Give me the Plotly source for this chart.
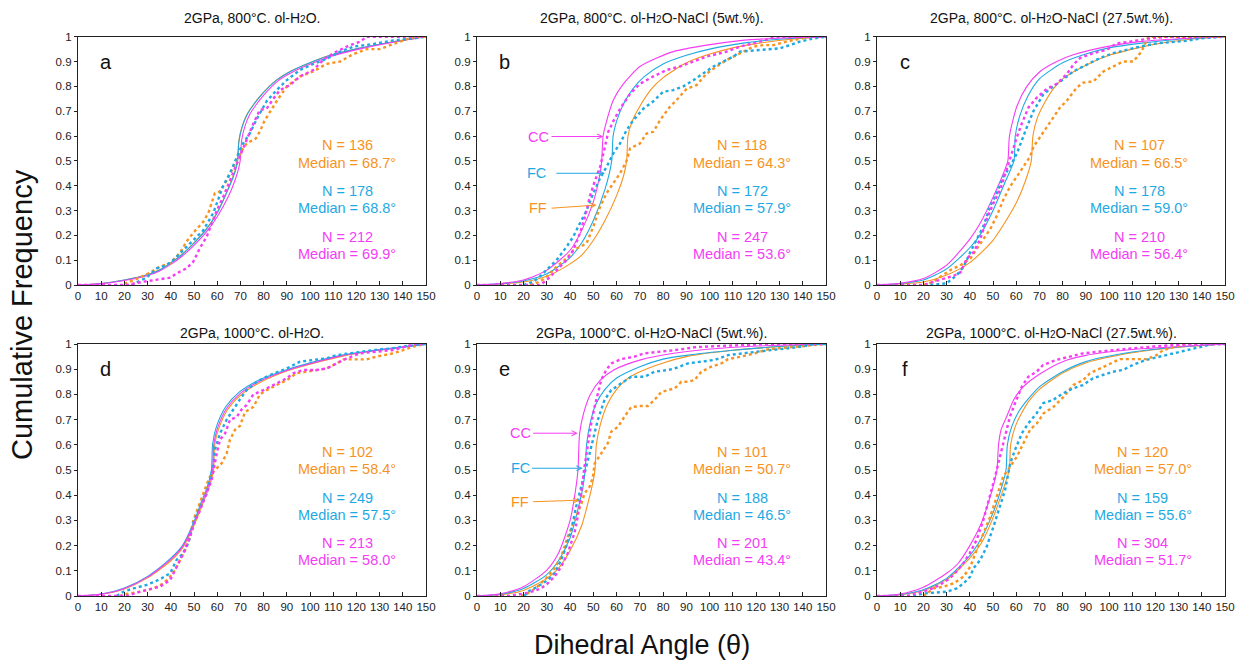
import plotly.graph_objects as go

# ---------------- DATA ----------------
TITLES = [
    "2GPa, 800°C. ol-H<span style='font-size:10px'>2</span>O.",
    "2GPa, 800°C. ol-H<span style='font-size:10px'>2</span>O-NaCl (5wt.%).",
    "2GPa, 800°C. ol-H<span style='font-size:10px'>2</span>O-NaCl (27.5wt.%).",
    "2GPa, 1000°C. ol-H<span style='font-size:10px'>2</span>O.",
    "2GPa, 1000°C. ol-H<span style='font-size:10px'>2</span>O-NaCl (5wt.%).",
    "2GPa, 1000°C. ol-H<span style='font-size:10px'>2</span>O-NaCl (27.5wt.%).",
]
LETTERS = ["a", "b", "c", "d", "e", "f"]
SERIES = ["FF", "FC", "CC"]
X_TICKS = list(range(0, 151, 10))
Y_TICKS = [round(0.1 * i, 1) for i in range(11)]

# N and median for FF (orange), FC (blue), CC (magenta) in each panel
N_a = [136, 178, 212]; MED_a = [68.7, 68.8, 69.9]
N_b = [118, 172, 247]; MED_b = [64.3, 57.9, 53.6]
N_c = [107, 178, 210]; MED_c = [66.5, 59.0, 56.4]
N_d = [102, 249, 213]; MED_d = [58.4, 57.5, 58.0]
N_e = [101, 188, 201]; MED_e = [50.7, 46.5, 43.4]
N_f = [120, 159, 304]; MED_f = [57.0, 55.6, 51.7]

# ---- measured cumulative frequencies (angle, F) ----
a_ff_dots = [(20,0.005),(26.7,0.03),(31,0.05),(35.3,0.074),(39.7,0.087),(44,0.13),(46.8,0.175),(49.7,0.21),(54,0.255),(56.2,0.29),(57.6,0.33),(59,0.37),(61,0.376),(64,0.42),(66.2,0.46),(68.4,0.5),(70.5,0.54),(72.7,0.57),(76.6,0.59),(78.5,0.62),(80.3,0.66),(85.6,0.74),(90,0.8),(95.7,0.84),(101.4,0.86),(107,0.89),(113,0.9),(118.7,0.93),(124.4,0.95),(130,0.95),(136,0.97),(141.7,0.99),(146,1.0),(150,1.0)]
a_fc_dots = [(23,0.0),(29.6,0.03),(33.9,0.067),(38.2,0.08),(41,0.1),(45.4,0.14),(49.7,0.18),(54,0.22),(58.3,0.29),(60.5,0.35),(62.6,0.4),(65.5,0.45),(67.7,0.5),(70.5,0.56),(74,0.61),(77.7,0.68),(81.3,0.74),(85.6,0.785),(90,0.825),(95.7,0.866),(101.4,0.89),(107,0.91),(113,0.94),(118.7,0.96),(127,0.97),(136,0.985),(144.5,0.993),(150,1.0)]
a_cc_dots = [(0,0.0),(21,0.0),(28,0.013),(35,0.023),(40,0.03),(42.5,0.047),(46.8,0.067),(49.7,0.094),(52.6,0.15),(55.5,0.195),(57.6,0.25),(59.8,0.3),(62.6,0.355),(65.5,0.42),(68.4,0.49),(70.5,0.53),(72.7,0.58),(75.6,0.65),(78.4,0.705),(81.3,0.71),(84.2,0.75),(87,0.785),(91.4,0.805),(95.7,0.84),(101.4,0.866),(105.7,0.906),(110,0.933),(115.8,0.96),(121.6,0.98),(124.4,1.0),(150,1.0)]

b_ff_dots = [(22.8,0.0),(27,0.013),(30,0.034),(34.2,0.074),(38.5,0.107),(41.4,0.14),(44.3,0.154),(47.1,0.168),(50,0.235),(52.9,0.315),(55.7,0.37),(58.6,0.41),(61.5,0.45),(64.3,0.5),(65.8,0.55),(67.2,0.557),(70,0.57),(72.9,0.61),(75.8,0.617),(78.7,0.664),(82.9,0.718),(85.8,0.745),(90.1,0.79),(94.4,0.805),(98.7,0.852),(103,0.88),(107.3,0.906),(113,0.933),(118.8,0.96),(123,0.966),(127.4,0.966),(133,0.98),(138.8,0.993),(143,1.0),(150,1.0)]
b_fc_dots = [(20,0.0),(24.2,0.013),(27,0.034),(30,0.06),(34.2,0.1),(38.5,0.154),(41.4,0.195),(44.3,0.25),(47.1,0.3),(50,0.37),(52.9,0.43),(55.7,0.476),(58.6,0.53),(61.5,0.57),(64.3,0.624),(67.2,0.664),(71.5,0.71),(75.8,0.74),(80,0.778),(84.4,0.785),(88.7,0.8),(93,0.825),(97.3,0.852),(101.6,0.88),(105.9,0.9),(110.2,0.92),(113,0.94),(121.6,0.946),(130,0.953),(134.5,0.966),(138.8,0.98),(144.6,0.993),(150,1.0)]
b_cc_dots = [(0,0.0),(27,0.0),(30,0.02),(32.8,0.047),(35.7,0.074),(38.5,0.1),(41.4,0.14),(44.3,0.21),(46.4,0.275),(48.6,0.36),(50.7,0.42),(52.9,0.476),(55,0.557),(56.4,0.617),(58.6,0.66),(61.5,0.71),(65.8,0.77),(70,0.81),(75.8,0.84),(81.5,0.866),(87.2,0.88),(93,0.9),(98.7,0.92),(107.3,0.94),(113,0.96),(121.6,0.98),(128.8,1.0),(150,1.0)]

c_ff_dots = [(20,0.0),(24.4,0.013),(27.3,0.033),(31.6,0.06),(35.9,0.08),(40.2,0.106),(43,0.146),(45.9,0.185),(48.8,0.225),(51.6,0.278),(54.5,0.344),(57.4,0.397),(60.3,0.437),(63.1,0.477),(66,0.517),(67.4,0.556),(70.3,0.596),(73.2,0.636),(76,0.675),(78.9,0.715),(81.8,0.742),(86.1,0.795),(89,0.815),(93.3,0.82),(97.6,0.86),(101.9,0.88),(106.1,0.9),(110.5,0.9),(114,0.94),(117,1.0),(150,1.0)]
c_fc_dots = [(23,0.0),(30,0.007),(34.4,0.04),(37.3,0.073),(40.2,0.132),(43,0.185),(45.9,0.238),(48.8,0.318),(51.6,0.37),(54.5,0.437),(57.4,0.477),(60.3,0.53),(62.4,0.583),(64.6,0.636),(67.4,0.7),(71.7,0.768),(76,0.8),(80.3,0.828),(84.6,0.86),(90.4,0.887),(96.1,0.914),(101.9,0.934),(107.6,0.947),(113.3,0.96),(120.5,0.973),(127.7,0.98),(133.4,0.983),(139.2,0.993),(150,1.0)]
c_cc_dots = [(0,0.0),(20,0.0),(24.4,0.013),(28.7,0.026),(33,0.037),(35.9,0.05),(38.7,0.106),(41.6,0.132),(44.5,0.185),(47.3,0.265),(50.2,0.33),(53.1,0.384),(56,0.464),(58.1,0.53),(60.3,0.596),(62.4,0.65),(65.3,0.715),(68.9,0.755),(73.2,0.79),(77.5,0.81),(81.8,0.85),(84.6,0.887),(87.5,0.914),(93.3,0.934),(99,0.947),(103.3,0.973),(109,0.98),(117.6,0.993),(126.3,1.0),(150,1.0)]

d_ff_dots = [(18,0.0),(21,0.008),(26.7,0.017),(32.5,0.03),(36.8,0.05),(39.7,0.077),(41.8,0.103),(44,0.143),(46.1,0.18),(48.3,0.235),(49.7,0.3),(51.9,0.354),(54,0.407),(56.2,0.46),(57.6,0.487),(59.8,0.507),(61.9,0.526),(64.1,0.566),(65.5,0.62),(67.7,0.66),(69.8,0.675),(72,0.73),(75.6,0.75),(78.4,0.8),(81.3,0.817),(85.6,0.837),(90,0.857),(94.3,0.884),(98.6,0.89),(102.9,0.897),(107.2,0.903),(111.5,0.923),(114.4,0.939),(118.7,0.939),(124.4,0.939),(128.7,0.95),(133,0.956),(135.9,0.963),(140.2,0.976),(144.5,0.99),(150,1.0)]
d_fc_dots = [(16.7,0.0),(19.5,0.017),(23.9,0.03),(29.6,0.044),(35.3,0.066),(39.7,0.09),(42.5,0.143),(45.4,0.17),(47.6,0.21),(49.7,0.29),(52.6,0.354),(55.5,0.407),(56.9,0.46),(58.3,0.513),(59,0.58),(61.2,0.645),(64.1,0.7),(66.9,0.74),(69.8,0.78),(72.7,0.817),(77,0.85),(82.8,0.877),(90,0.903),(95.7,0.93),(101.4,0.937),(107.2,0.943),(111.5,0.956),(117.2,0.963),(124.4,0.97),(130.2,0.979),(135.9,0.983),(141.7,0.992),(150,1.0)]
d_cc_dots = [(0,0.0),(21,0.0),(26.7,0.017),(31,0.026),(35.3,0.037),(39.7,0.063),(42.5,0.116),(45.4,0.17),(48.3,0.235),(50.4,0.295),(52.6,0.34),(55.5,0.407),(57.6,0.46),(59.8,0.566),(61.2,0.62),(63.4,0.645),(65.5,0.7),(68.4,0.71),(70.5,0.74),(72.7,0.758),(75.6,0.8),(79.9,0.817),(85.6,0.844),(90,0.864),(92.8,0.884),(97.1,0.897),(102.9,0.897),(107.2,0.903),(111.5,0.923),(115.8,0.943),(121.6,0.963),(128.7,0.97),(135.9,0.976),(141.7,0.99),(144.5,1.0),(150,1.0)]

e_ff_dots = [(19,0.0),(21.8,0.01),(26,0.037),(30.4,0.077),(33.3,0.11),(36.2,0.156),(39,0.235),(41.9,0.3),(44.8,0.364),(46.2,0.407),(48.4,0.434),(49.8,0.47),(50.5,0.524),(53.4,0.566),(56.2,0.606),(57.7,0.652),(60.6,0.672),(63.4,0.712),(66.3,0.75),(70.6,0.754),(73.5,0.754),(76.3,0.778),(79.2,0.81),(85,0.824),(87.8,0.85),(90.7,0.85),(93.5,0.857),(96.4,0.89),(100.7,0.91),(105,0.923),(107.9,0.94),(113.6,0.95),(119.4,0.963),(125.1,0.979),(133.7,0.987),(140.9,0.992),(150,1.0)]
e_fc_dots = [(20.4,0.0),(21.8,0.017),(26,0.037),(30.4,0.063),(33.3,0.09),(36.2,0.143),(38.3,0.196),(40.5,0.262),(42.6,0.354),(44.8,0.434),(46.9,0.5),(48.4,0.566),(49.8,0.619),(51.9,0.698),(54.8,0.778),(57.7,0.817),(62,0.844),(66.3,0.87),(72,0.87),(76.3,0.89),(82.1,0.897),(85,0.903),(90.7,0.923),(96.4,0.93),(102.2,0.937),(107.9,0.956),(113.6,0.963),(119.4,0.97),(126.5,0.976),(133.7,0.983),(139.5,0.99),(145.2,1.0),(150,1.0)]
e_cc_dots = [(0,0.0),(13,0.0),(20.4,0.01),(24.7,0.02),(27.5,0.03),(30.4,0.05),(33.3,0.077),(36.2,0.116),(39,0.17),(41.9,0.25),(43.3,0.315),(44.8,0.407),(46.2,0.513),(47.6,0.606),(49.1,0.685),(50.5,0.75),(51.9,0.804),(53.4,0.857),(55.5,0.897),(57.7,0.923),(62,0.94),(67.7,0.95),(72,0.963),(77.8,0.97),(83.5,0.974),(87.8,0.979),(93.5,0.987),(99.3,0.99),(106.5,0.992),(113.6,0.996),(125,1.0),(150,1.0)]

f_ff_dots = [(20,0.0),(24.4,0.03),(28.7,0.037),(33,0.05),(37.3,0.077),(40.2,0.116),(43,0.183),(45.9,0.25),(48.8,0.315),(51.6,0.394),(54.4,0.474),(57.4,0.513),(60.3,0.553),(63.1,0.606),(66,0.66),(68.9,0.685),(71.8,0.725),(76,0.75),(80.4,0.79),(84.6,0.837),(88.9,0.857),(91.8,0.884),(96.1,0.903),(100.4,0.923),(104.7,0.94),(110.5,0.94),(116.2,0.94),(120.5,0.956),(123.4,0.976),(129.1,0.99),(133.4,1.0),(150,1.0)]
f_fc_dots = [(15.6,0.0),(20,0.01),(24.4,0.013),(30,0.017),(34.4,0.03),(37.3,0.05),(40.2,0.077),(41.6,0.11),(44.5,0.143),(47.3,0.196),(50.2,0.275),(53.1,0.354),(55.2,0.42),(57.4,0.526),(59.5,0.58),(62.4,0.645),(65.2,0.685),(68.8,0.725),(71.6,0.765),(75.9,0.778),(80.2,0.804),(84.5,0.824),(88.8,0.837),(93.1,0.864),(97.4,0.877),(101.7,0.89),(106,0.897),(110.3,0.917),(116,0.937),(121.8,0.95),(127.5,0.963),(133.2,0.976),(139,0.99),(144.8,1.0),(150,1.0)]
f_cc_dots = [(0,0.0),(13,0.0),(17,0.01),(22.8,0.026),(27,0.044),(31.4,0.07),(34.3,0.097),(37.2,0.13),(40,0.17),(42.9,0.222),(45.8,0.3),(48.7,0.394),(50.9,0.474),(53,0.553),(55.2,0.632),(57.3,0.712),(59.5,0.765),(62.4,0.83),(65.2,0.87),(68.8,0.89),(71.6,0.917),(77.4,0.937),(83.1,0.95),(88.8,0.963),(96,0.97),(101.7,0.976),(110.3,0.983),(118.9,0.99),(127.5,0.996),(134.7,1.0),(150,1.0)]

# ---- model curves (angle, F) ----
a_ff_curve = [(0,0),(10,0.006),(20,0.02),(30,0.042),(35,0.06),(40,0.09),(45,0.125),(50,0.17),(55,0.222),(60,0.292),(64,0.372),(66.4,0.427),(67.9,0.467),(68.7,0.5),(69.3,0.58),(70.6,0.635),(72.7,0.685),(75.5,0.725),(78.4,0.76),(85.5,0.825),(92.7,0.866),(100,0.895),(107,0.92),(121,0.953),(136,0.98),(150,1.0)]
a_fc_curve = [(0,0),(10,0.006),(20,0.02),(30,0.041),(35,0.059),(40,0.089),(45,0.124),(50,0.169),(55,0.22),(60,0.29),(64,0.37),(66.5,0.425),(68,0.465),(68.8,0.5),(69.4,0.58),(70.7,0.635),(72.8,0.685),(75.6,0.725),(78.5,0.76),(85.6,0.825),(92.8,0.866),(100,0.895),(107,0.92),(121,0.953),(136,0.98),(150,1.0)]
a_cc_curve = [(0,0),(10,0.005),(20,0.018),(30,0.038),(35,0.055),(40,0.083),(45,0.117),(50,0.16),(55,0.21),(60,0.275),(65,0.36),(67.6,0.42),(69.1,0.465),(69.9,0.5),(70.5,0.58),(71.8,0.635),(73.9,0.685),(76.7,0.725),(79.6,0.76),(86.6,0.825),(93.8,0.864),(101,0.893),(108,0.918),(122,0.952),(137,0.98),(150,1.0)]

b_ff_curve = [(0,0),(10,0.004),(20,0.012),(30,0.035),(40,0.085),(45,0.12),(50,0.18),(55,0.26),(60,0.36),(63,0.44),(64.3,0.5),(64.9,0.6),(66.5,0.655),(70,0.72),(75,0.79),(80,0.835),(90,0.895),(100,0.93),(110,0.955),(120,0.972),(135,0.99),(150,1.0)]
b_fc_curve = [(0,0),(10,0.005),(20,0.016),(30,0.045),(40,0.11),(45,0.17),(50,0.26),(55,0.385),(57.9,0.5),(58.5,0.6),(60,0.66),(63,0.73),(67,0.79),(72,0.84),(80,0.89),(90,0.925),(100,0.95),(115,0.975),(130,0.99),(150,1.0)]
b_cc_curve = [(0,0),(10,0.006),(20,0.02),(30,0.06),(40,0.14),(45,0.22),(50,0.335),(52.9,0.45),(53.6,0.5),(54.2,0.6),(55.7,0.66),(58.6,0.745),(62.9,0.81),(70,0.88),(77,0.913),(84.4,0.94),(98.7,0.966),(113,0.984),(127,0.993),(150,1.0)]

c_ff_curve = [(0,0),(10,0.004),(20,0.012),(30,0.04),(40,0.09),(50,0.18),(55,0.25),(60,0.33),(64,0.42),(66.5,0.5),(67.2,0.6),(69,0.67),(72,0.73),(76,0.79),(80,0.83),(90,0.885),(100,0.925),(110,0.95),(120,0.97),(135,0.99),(150,1.0)]
c_fc_curve = [(0,0),(10,0.006),(20,0.02),(30,0.065),(40,0.15),(45,0.21),(50,0.3),(55,0.41),(59,0.5),(59.6,0.6),(61.5,0.68),(65,0.76),(70,0.83),(80,0.895),(90,0.93),(100,0.955),(115,0.975),(130,0.99),(150,1.0)]
c_cc_curve = [(0,0),(10,0.007),(20,0.026),(30,0.08),(40,0.185),(45,0.258),(50.2,0.357),(54.5,0.45),(56.4,0.5),(57.1,0.6),(60.3,0.72),(64.6,0.8),(70.3,0.86),(77.5,0.9),(84.6,0.927),(99,0.96),(113,0.98),(130,0.992),(150,1.0)]

d_ff_curve = [(0,0),(10,0.007),(20,0.028),(30,0.072),(40,0.14),(45,0.19),(50,0.28),(53.5,0.36),(56.5,0.43),(58.4,0.5),(58.9,0.6),(60.5,0.66),(64.5,0.74),(70.5,0.8),(79,0.85),(90,0.893),(100,0.92),(114,0.952),(129,0.975),(143,0.991),(150,1.0)]
d_fc_curve = [(0,0),(10,0.008),(20,0.032),(30,0.078),(40,0.15),(45,0.2),(50,0.295),(53,0.37),(55.6,0.43),(57.5,0.5),(58,0.6),(59.6,0.67),(63.6,0.75),(69.6,0.81),(78,0.857),(89.6,0.897),(100,0.925),(114,0.956),(128.7,0.976),(143,0.992),(150,1.0)]
d_cc_curve = [(0,0),(10,0.0075),(20,0.03),(30,0.075),(40,0.145),(45,0.195),(50,0.288),(53.3,0.365),(56,0.43),(58,0.5),(58.5,0.6),(60.1,0.665),(64.1,0.745),(70.1,0.805),(78.5,0.853),(90,0.895),(100,0.922),(114,0.954),(129,0.975),(143,0.991),(150,1.0)]

e_ff_curve = [(0,0),(10,0.005),(20,0.022),(30,0.07),(35,0.11),(40,0.18),(45,0.28),(48,0.38),(50,0.46),(50.7,0.5),(51.3,0.6),(53,0.68),(56,0.76),(60,0.82),(65,0.865),(70,0.89),(80,0.925),(90,0.95),(110,0.975),(130,0.99),(150,1.0)]
e_fc_curve = [(0,0),(10,0.007),(20,0.03),(30,0.085),(35,0.14),(40,0.23),(43,0.33),(45.5,0.43),(46.5,0.5),(47.1,0.6),(48.5,0.68),(51,0.76),(55,0.82),(60,0.865),(70,0.91),(80,0.94),(90,0.955),(110,0.975),(130,0.99),(150,1.0)]
e_cc_curve = [(0,0),(10,0.009),(20,0.037),(30,0.103),(35,0.17),(40,0.3),(42.2,0.41),(43.4,0.5),(44.1,0.645),(45.8,0.725),(48.7,0.8),(53,0.857),(58.8,0.897),(70.3,0.937),(84.6,0.963),(99,0.979),(120.5,0.992),(150,1.0)]

f_ff_curve = [(0,0),(10,0.005),(20,0.022),(30,0.065),(40,0.15),(45,0.21),(50,0.31),(55,0.44),(57,0.5),(57.6,0.6),(59.5,0.67),(62,0.72),(66,0.78),(70,0.82),(80,0.885),(90,0.925),(110,0.965),(130,0.987),(150,1.0)]
f_fc_curve = [(0,0),(10,0.006),(20,0.025),(30,0.07),(40,0.16),(45,0.23),(50,0.33),(54,0.44),(55.6,0.5),(56.2,0.6),(58,0.67),(61,0.73),(65,0.78),(70,0.83),(80,0.89),(90,0.93),(110,0.968),(130,0.988),(150,1.0)]
f_cc_curve = [(0,0),(10,0.008),(20,0.035),(30,0.09),(35,0.13),(40,0.2),(45,0.29),(48,0.37),(50.5,0.45),(51.7,0.5),(52.4,0.6),(53.5,0.66),(55.8,0.71),(59,0.78),(63,0.83),(70,0.88),(80,0.93),(90,0.955),(110,0.978),(130,0.99),(150,1.0)]

# ---------------- BUILD ----------------
COLORS = {"FF": "#F7931E", "FC": "#1FA9E3", "CC": "#F53DF5"}
FONT = "Liberation Sans, Arial, sans-serif"

PANELS = [
    dict(dots=[a_ff_dots, a_fc_dots, a_cc_dots], curves=[a_ff_curve, a_fc_curve, a_cc_curve], n=N_a, med=MED_a),
    dict(dots=[b_ff_dots, b_fc_dots, b_cc_dots], curves=[b_ff_curve, b_fc_curve, b_cc_curve], n=N_b, med=MED_b),
    dict(dots=[c_ff_dots, c_fc_dots, c_cc_dots], curves=[c_ff_curve, c_fc_curve, c_cc_curve], n=N_c, med=MED_c),
    dict(dots=[d_ff_dots, d_fc_dots, d_cc_dots], curves=[d_ff_curve, d_fc_curve, d_cc_curve], n=N_d, med=MED_d),
    dict(dots=[e_ff_dots, e_fc_dots, e_cc_dots], curves=[e_ff_curve, e_fc_curve, e_cc_curve], n=N_e, med=MED_e),
    dict(dots=[f_ff_dots, f_fc_dots, f_cc_dots], curves=[f_ff_curve, f_fc_curve, f_cc_curve], n=N_f, med=MED_f),
]

W, H = 1253, 667
XDOM = [(78 / W, 426 / W), (477 / W, 826 / W), (877 / W, 1225 / W)]
YDOM = [(1 - 285 / H, 1 - 36.7 / H), (1 - 596 / H, 1 - 344 / H)]
TITLE_Y = [1 - 18 / H, 1 - 332.5 / H]
TEXT_X = [116, 114, 113, 116, 114, 114.5]
TEXT_Y_TOP = [0.562, 0.492, 0.38, 0.31, 0.194, 0.124]
TEXT_Y_BOT = [0.57, 0.504, 0.388, 0.321, 0.212, 0.143]

fig = go.Figure()
annotations = []
layout = {}

for i, p in enumerate(PANELS):
    row, col = divmod(i, 3)
    k = "" if i == 0 else str(i + 1)
    xa, ya = "x" + k, "y" + k
    # model curves
    for s, curve in zip(SERIES, p["curves"]):
        fig.add_trace(go.Scatter(
            x=[c[0] for c in curve], y=[c[1] for c in curve], mode="lines",
            line=dict(color=COLORS[s], width=1.1, shape="spline", smoothing=0.7),
            xaxis=xa, yaxis=ya, showlegend=False, hoverinfo="skip"))
    # measured dots
    for s, dots in zip(SERIES, p["dots"]):
        fig.add_trace(go.Scatter(
            x=[d[0] for d in dots], y=[d[1] for d in dots], mode="lines",
            line=dict(color=COLORS[s], width=2.4, dash="dot"), xaxis=xa, yaxis=ya,
            showlegend=False))
    layout["xaxis" + k] = dict(
        domain=XDOM[col], anchor=ya, range=[0, 150], tickmode="array", automargin=False,
        tickvals=X_TICKS, ticktext=[str(t) for t in X_TICKS], ticks="inside", ticklen=4,
        tickcolor="#222", showline=True, linecolor="#222", linewidth=1.2, mirror=True,
        showgrid=False, zeroline=False, tickangle=0,
        tickfont=dict(family=FONT, size=11.5, color="#222"))
    layout["yaxis" + k] = dict(
        domain=YDOM[row], anchor=xa, range=[0, 1], tickmode="array", automargin=False,
        tickvals=Y_TICKS, ticktext=[("%g" % t) for t in Y_TICKS], ticks="outside", ticklen=3,
        tickcolor="#222", showline=True, linecolor="#222", linewidth=1.2, mirror=True,
        showgrid=False, zeroline=False,
        tickfont=dict(family=FONT, size=11.5, color="#222"))
    # panel title
    annotations.append(dict(
        text=TITLES[i], x=(XDOM[col][0] + XDOM[col][1]) / 2, y=TITLE_Y[row],
        xref="paper", yref="paper", showarrow=False, xanchor="center", yanchor="middle",
        font=dict(family=FONT, size=14, color="#111")))
    # panel letter
    annotations.append(dict(
        text=LETTERS[i], x=12, y=0.9, xref=xa, yref=ya, showarrow=False,
        xanchor="center", yanchor="middle", font=dict(family=FONT, size=20, color="#111")))
    # N / median texts
    ty = TEXT_Y_TOP if row == 0 else TEXT_Y_BOT
    for j, s in enumerate(SERIES):
        annotations.append(dict(
            text="N = %d" % p["n"][j], x=TEXT_X[i], y=ty[2 * j], xref=xa, yref=ya,
            showarrow=False, xanchor="center", yanchor="middle",
            font=dict(family=FONT, size=14.5, color=COLORS[s])))
        annotations.append(dict(
            text="Median = %.1f°" % p["med"][j], x=TEXT_X[i], y=ty[2 * j + 1], xref=xa, yref=ya,
            showarrow=False, xanchor="center", yanchor="middle",
            font=dict(family=FONT, size=14.5, color=COLORS[s])))

# CC / FC / FF pointer labels in panels b and e: (panel, series, text x, y, tail x, head x, head y)
POINTERS = [
    (1, "CC", 26.3, 0.598, 31.4, 54.3, 0.598),
    (1, "FC", 25.6, 0.45, 33.5, 55.0, 0.45),
    (1, "FF", 26.3, 0.309, 31.4, 51.4, 0.322),
    (4, "CC", 18.5, 0.646, 23.5, 43.3, 0.646),
    (4, "FC", 18.5, 0.507, 23.0, 45.4, 0.507),
    (4, "FF", 18.5, 0.374, 23.5, 44.0, 0.38),
]
for pi, s, tx, tyy, ax0, hx, hy in POINTERS:
    k = str(pi + 1)
    annotations.append(dict(
        text=s, x=tx, y=tyy, xref="x" + k, yref="y" + k, showarrow=False,
        xanchor="center", yanchor="middle", font=dict(family=FONT, size=14.5, color=COLORS[s])))
    annotations.append(dict(
        text="", x=hx, y=hy, ax=ax0, ay=tyy, xref="x" + k, yref="y" + k,
        axref="x" + k, ayref="y" + k, showarrow=True, arrowhead=5, arrowsize=1,
        arrowwidth=1, arrowcolor=COLORS[s]))

# global axis titles
annotations.append(dict(
    text="Cumulative Frequency", x=22 / W, y=1 - 315 / H, xref="paper", yref="paper",
    showarrow=False, textangle=-90, xanchor="center", yanchor="middle",
    font=dict(family=FONT, size=29, color="#111")))
annotations.append(dict(
    text="Dihedral Angle (θ)", x=642 / W, y=1 - 645 / H, xref="paper", yref="paper",
    showarrow=False, xanchor="center", yanchor="middle",
    font=dict(family=FONT, size=27, color="#111")))

fig.update_layout(
    width=W, height=H, margin=dict(l=0, r=0, t=0, b=0, autoexpand=False),
    paper_bgcolor="white", plot_bgcolor="white", showlegend=False,
    annotations=annotations, **layout)

fig.write_html("out.html", config={"displayModeBar": False},
               post_script="document.body.style.margin='0';document.body.style.overflow='hidden';")
